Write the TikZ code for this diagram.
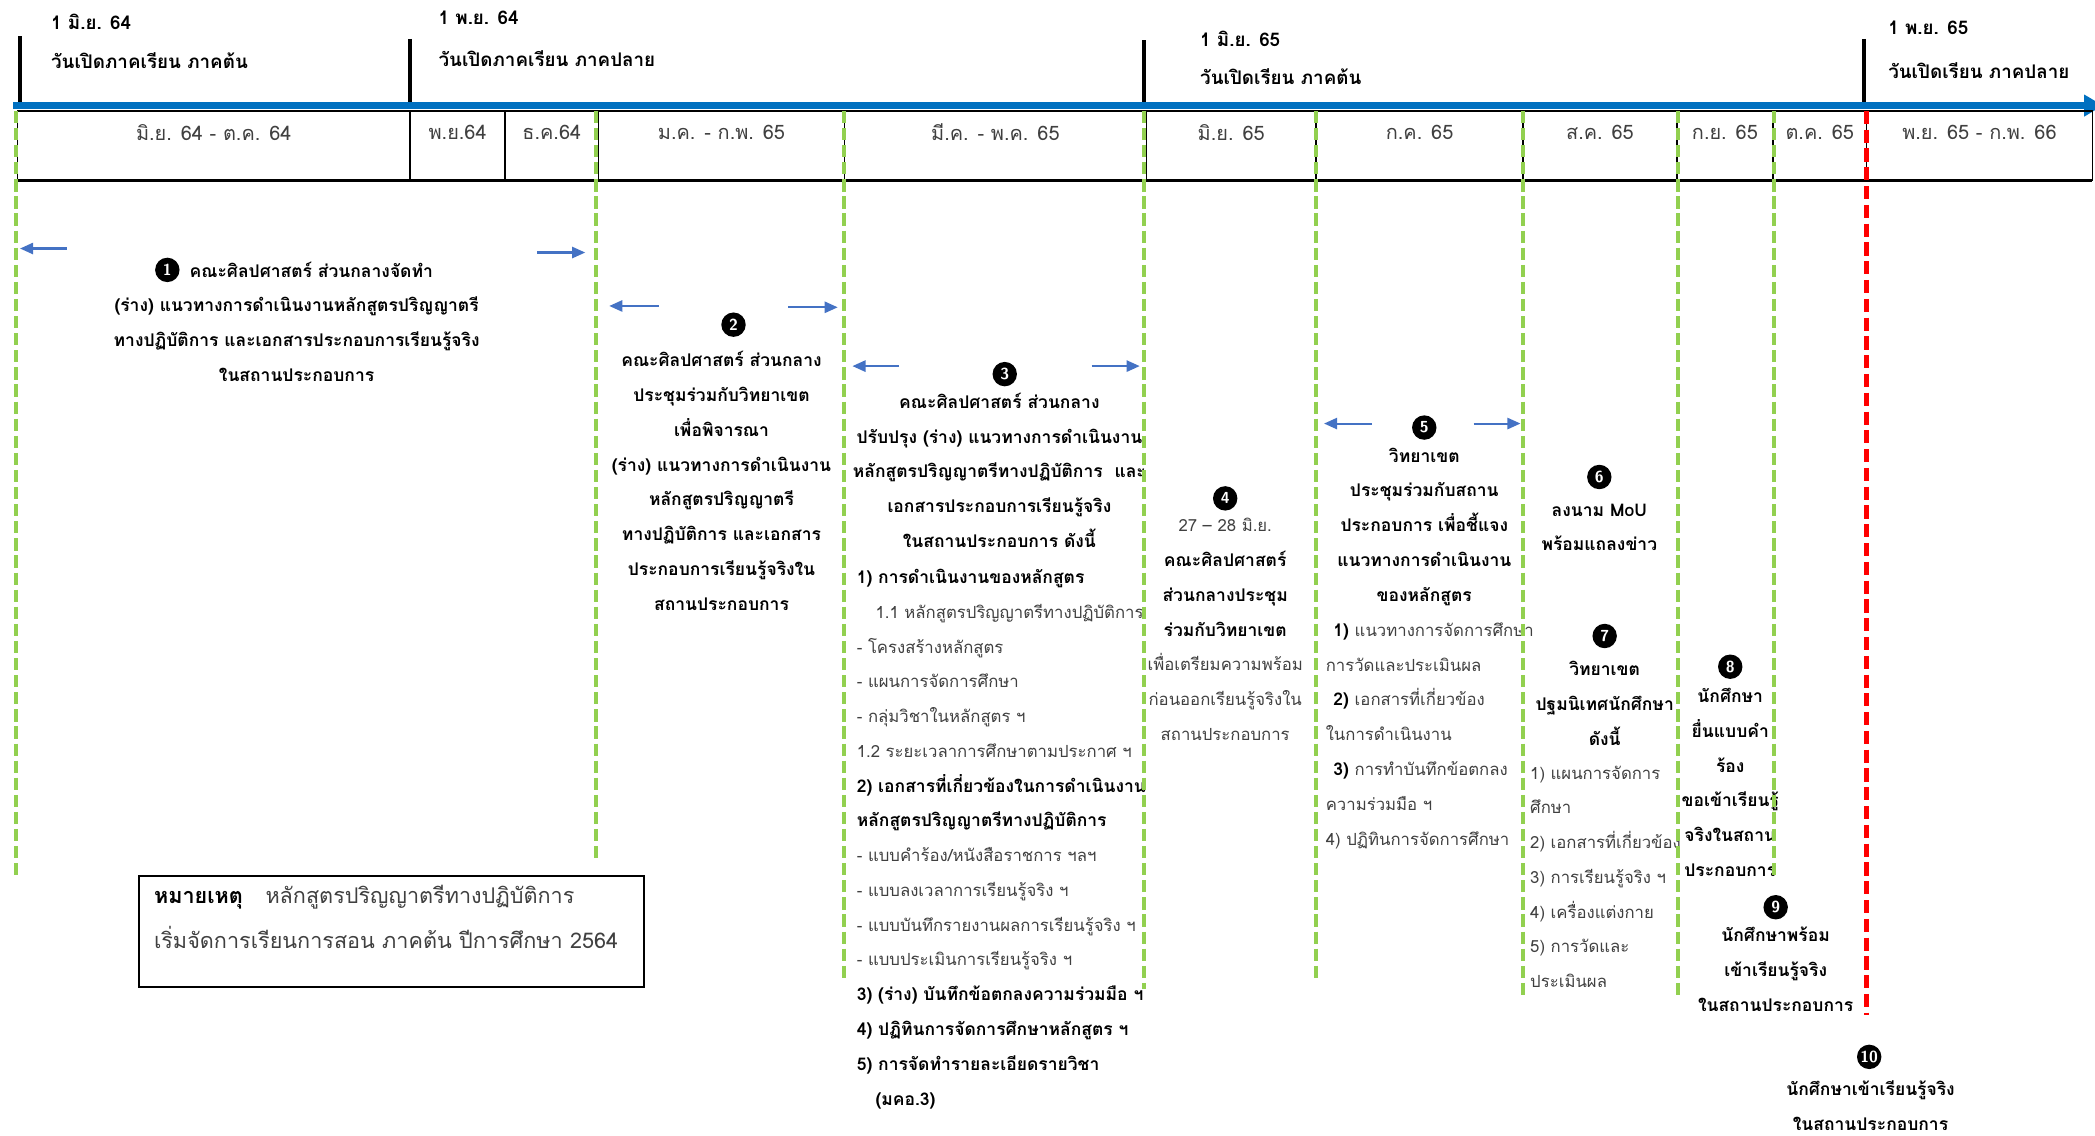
\documentclass[tikz,border=0pt]{standalone}
\usepackage{fontspec}
\usepackage{tikz}
\usetikzlibrary{arrows.meta, positioning}
\newfontfamily\thaifont[Script=Thai]{Loma}
\definecolor{barblue}{HTML}{0070C0}
\definecolor{arrowblue}{HTML}{4472C4}
\definecolor{dashgreen}{HTML}{92D050}
\definecolor{lighttext}{HTML}{404040}
\newcommand{\lt}{\mdseries\fontsize{8.9}{18.5}\selectfont\color{lighttext}}

\begin{document}
\begin{tikzpicture}[x=0.025cm,y=-0.025cm,>={Triangle[length=7pt,width=6pt]},
    every node/.style={inner sep=0pt,font=\thaifont\bfseries\fontsize{9.3}{18.5}\selectfont},
    num/.style={circle,fill=black,text=white,minimum size=13pt,font=\sffamily\bfseries\fontsize{8.5}{8.5}\selectfont},
    body/.style={align=center,anchor=north,yshift=-2pt},
    listing/.style={align=left,anchor=north west,yshift=-2pt},
    datelbl/.style={anchor=west,font=\thaifont\bfseries\fontsize{10}{12}\selectfont},
    month/.style={text=lighttext,font=\thaifont\fontsize{10.6}{12}\selectfont},
    opening/.style={line width=2.2pt},
    gdash/.style={draw=dashgreen,line width=2.2pt,dash pattern=on 6.5pt off 2.6pt},
    rdash/.style={draw=red,line width=2.6pt,dash pattern=on 7pt off 3pt},
    span/.style={draw=arrowblue,line width=1.1pt,->},
    notebox/.style={draw,line width=1.1pt,minimum width=269pt,minimum height=59pt}]

  \useasboundingbox (0,0) rectangle (1568,850);

  % opening days of each semester
  \foreach \x/\y [count=\i] in {15/27,307/29,856/30,1395/29}{
    \coordinate (ot\i) at (\x,\y);
    \coordinate (ob\i) at (\x,78);
    \draw[opening] (ot\i) -- (ob\i);
  }
  \node (d1) [datelbl] at (38,16) {1 มิ.ย. 64};
  \node (w1) [datelbl] at (38,45) {วันเปิดภาคเรียน ภาคต้น};
  \node (d2) [datelbl] at (328,13) {1 พ.ย. 64};
  \node (w2) [datelbl] at (328,44) {วันเปิดภาคเรียน ภาคปลาย};
  \node (d3) [datelbl] at (898,29) {1 มิ.ย. 65};
  \node (w3) [datelbl] at (898,57) {วันเปิดเรียน ภาคต้น};
  \node (d4) [datelbl] at (1413,21) {1 พ.ย. 65};
  \node (w4) [datelbl] at (1413,53) {วันเปิดเรียน ภาคปลาย};

  % time line
  \coordinate (tstart) at (10,79);
  \coordinate (tend) at (1574,79);
  \draw[barblue,line width=4pt,-{Triangle[length=10pt,width=11pt]}] (tstart) -- (tend);

  % months
  \draw[line width=0.8pt] (13,83) rectangle (1566,135);
  \draw[line width=1.6pt] (13,135) -- (1566,135);
  \foreach \x in {307,378,448,632,858,985,1140,1255,1327,1397}
    \draw[line width=0.8pt] (\x,83) -- (\x,135);
  \foreach \a/\b/\m [count=\i] in {13/307/{มิ.ย. 64 - ต.ค. 64},307/378/{พ.ย.64},378/448/{ธ.ค.64},
      448/632/{ม.ค. - ก.พ. 65},632/858/{มี.ค. - พ.ค. 65},858/985/{มิ.ย. 65},985/1140/{ก.ค. 65},
      1140/1255/{ส.ค. 65},1255/1327/{ก.ย. 65},1327/1397/{ต.ค. 65},1397/1566/{พ.ย. 65 - ก.พ. 66}}
    \node (m\i) [month] at ({(\a+\b)/2},99) {\m};

  % step 1
  \node (t1a) at (233,202) {คณะศิลปศาสตร์ ส่วนกลางจัดทำ};
  \node (c1) [num,left=5pt of t1a] {1};
  \node (t1) [body] at (222,219) {(ร่าง) แนวทางการดำเนินงานหลักสูตรปริญญาตรี\\ทางปฏิบัติการ และเอกสารประกอบการเรียนรู้จริง\\ในสถานประกอบการ};

  % step 2
  \node (c2) [num] at (549,243) {2};
  \node (t2) [body] at (540,260) {คณะศิลปศาสตร์ ส่วนกลาง\\ประชุมร่วมกับวิทยาเขต\\เพื่อพิจารณา\\(ร่าง) แนวทางการดำเนินงาน\\หลักสูตรปริญญาตรี\\ทางปฏิบัติการ และเอกสาร\\ประกอบการเรียนรู้จริงใน\\สถานประกอบการ};

  % step 3
  \node (c3) [num] at (752,280) {3};
  \node (t3) [body] at (748,291) {คณะศิลปศาสตร์ ส่วนกลาง\\ปรับปรุง (ร่าง) แนวทางการดำเนินงาน\\หลักสูตรปริญญาตรีทางปฏิบัติการ~~และ\\เอกสารประกอบการเรียนรู้จริง\\ในสถานประกอบการ ดังนี้};
  \node (l3) [listing] at (641,423) {1) การดำเนินงานของหลักสูตร\\
    {\lt\hspace*{10pt}1.1 หลักสูตรปริญญาตรีทางปฏิบัติการ}\\
    {\lt - โครงสร้างหลักสูตร}\\
    {\lt - แผนการจัดการศึกษา}\\
    {\lt - กลุ่มวิชาในหลักสูตร ฯ}\\
    {\lt 1.2 ระยะเวลาการศึกษาตามประกาศ ฯ}\\
    2) เอกสารที่เกี่ยวข้องในการดำเนินงาน\\
    หลักสูตรปริญญาตรีทางปฏิบัติการ\\
    {\lt - แบบคำร้อง/หนังสือราชการ ฯลฯ}\\
    {\lt - แบบลงเวลาการเรียนรู้จริง ฯ}\\
    {\lt - แบบบันทึกรายงานผลการเรียนรู้จริง ฯ}\\
    {\lt - แบบประเมินการเรียนรู้จริง ฯ}\\
    3) (ร่าง) บันทึกข้อตกลงความร่วมมือ ฯ\\
    4) ปฏิทินการจัดการศึกษาหลักสูตร ฯ\\
    5) การจัดทำรายละเอียดรายวิชา\\
    \hspace*{10pt}(มคอ.3)};

  % step 4
  \node (c4) [num] at (917,373) {4};
  \node (t4) [body] at (917,385) {{\lt 27 – 28 มิ.ย.}\\คณะศิลปศาสตร์\\ส่วนกลางประชุม\\ร่วมกับวิทยาเขต\\{\lt เพื่อเตรียมความพร้อม}\\{\lt ก่อนออกเรียนรู้จริงใน}\\{\lt สถานประกอบการ}};

  % step 5
  \node (c5) [num] at (1066,320) {5};
  \node (t5) [body] at (1066,332) {วิทยาเขต\\ประชุมร่วมกับสถาน\\ประกอบการ เพื่อชี้แจง\\แนวทางการดำเนินงาน\\ของหลักสูตร};
  \node (l5) [listing] at (992,463) {\hspace*{4pt}1) {\lt แนวทางการจัดการศึกษา}\\
    {\lt การวัดและประเมินผล}\\
    \hspace*{4pt}2) {\lt เอกสารที่เกี่ยวข้อง}\\
    {\lt ในการดำเนินงาน}\\
    \hspace*{4pt}3) {\lt การทำบันทึกข้อตกลง}\\
    {\lt ความร่วมมือ ฯ}\\
    {\lt 4) ปฏิทินการจัดการศึกษา}};

  % step 6
  \node (c6) [num] at (1197,357) {6};
  \node (t6) [body] at (1197,374) {ลงนาม MoU\\พร้อมแถลงข่าว};

  % step 7
  \node (c7) [num] at (1201,476) {7};
  \node (t7) [body] at (1201,492) {วิทยาเขต\\ปฐมนิเทศนักศึกษา\\ดังนี้};
  \node (l7) [listing] at (1145,570) {{\lt 1) แผนการจัดการ}\\{\lt ศึกษา}\\{\lt 2) เอกสารที่เกี่ยวข้อง}\\{\lt 3) การเรียนรู้จริง ฯ}\\{\lt 4) เครื่องแต่งกาย}\\{\lt 5) การวัดและ}\\{\lt ประเมินผล}};

  % steps 8-10
  \node (c8) [num] at (1295,499) {8};
  \node (t8) [body] at (1295,512) {นักศึกษา\\ยื่นแบบคำ\\ร้อง\\ขอเข้าเรียนรู้\\จริงในสถาน\\ประกอบการ};
  \node (c9) [num] at (1329,679) {9};
  \node (t9) [body] at (1329,691) {นักศึกษาพร้อม\\เข้าเรียนรู้จริง\\ในสถานประกอบการ};
  \node (c10) [num] at (1399,791) {10};
  \node (t10) [body] at (1400,806) {นักศึกษาเข้าเรียนรู้จริง\\ในสถานประกอบการ};

  % note
  \node (note) [notebox,anchor=north west] at (103,655) {};
  \node (notetext) [align=left,anchor=north west,font=\thaifont\fontsize{11.5}{24}\selectfont] at (115,662)
    {{\bfseries หมายเหตุ}\hspace*{12pt}{\lt\fontsize{11.5}{24}\selectfont หลักสูตรปริญญาตรีทางปฏิบัติการ}\\{\lt\fontsize{11.5}{24}\selectfont เริ่มจัดการเรียนการสอน ภาคต้น ปีการศึกษา 2564}};

  % period borders
  \foreach \x/\y [count=\i] in {12/657,446/645,632/735,856/740,985/735,1140/745,1256/745,1328/655}{
    \coordinate (gt\i) at (\x,83);
    \coordinate (gb\i) at (\x,\y);
    \draw[gdash] (gt\i) -- (gb\i);
  }
  \coordinate (rt) at (1397,83);
  \coordinate (rb) at (1397,760);
  \draw[rdash] (rt) -- (rb);

  % duration arrows
  \foreach \a/\b/\y [count=\i] in {50/15/186,402/438/189,493/456/229,590/627/230,
      673/638/274,817/853/274,1027/991/317,1103/1138/317}{
    \coordinate (as\i) at (\a,\y);
    \coordinate (ae\i) at (\b,\y);
    \draw[span] (as\i) -- (ae\i);
  }
\end{tikzpicture}
\end{document}
